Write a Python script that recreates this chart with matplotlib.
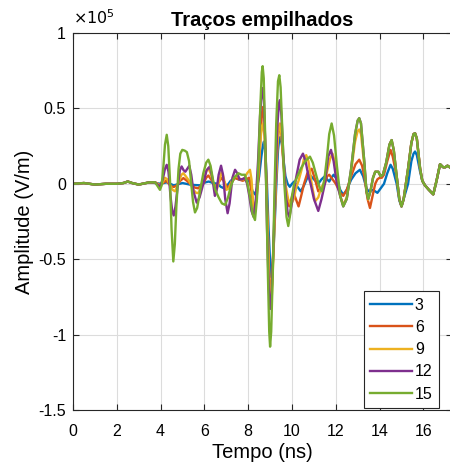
import numpy as np
import matplotlib
matplotlib.use("Agg")
import matplotlib.pyplot as plt

plt.rcParams['font.family'] = ['Liberation Sans', 'DejaVu Sans']
plt.rcParams['axes.unicode_minus'] = False

# (time in ns, amplitude in 1e5 V/m)
early = [[0, 0], [0.5, 0.005], [1.0, -0.005], [1.5, 0.0], [2.0, 0.0], [2.3, 0.005], [2.5, 0.015],
         [2.7, 0.005], [3.0, -0.005], [3.5, 0.01], [3.75, 0.01]]

trace_15 = np.array(early + [
    [3.88, -0.02], [3.97, -0.04], [4.05, -0.01], [4.13, 0.12], [4.2, 0.26], [4.28, 0.325],
    [4.35, 0.25], [4.43, 0.02], [4.5, -0.3], [4.58, -0.515], [4.65, -0.4], [4.72, -0.15],
    [4.82, 0.1], [4.9, 0.2], [4.99, 0.225], [5.1, 0.22], [5.2, 0.21], [5.3, 0.15], [5.4, 0.0],
    [5.48, -0.12], [5.57, -0.19], [5.67, -0.16], [5.8, -0.05], [5.95, 0.07], [6.08, 0.14],
    [6.18, 0.16], [6.28, 0.12], [6.4, 0.02], [6.5, -0.04], [6.65, -0.09], [6.8, -0.13],
    [6.95, -0.14], [7.08, -0.09], [7.2, -0.02], [7.35, 0.04], [7.55, 0.07], [7.7, 0.06],
    [7.85, 0.06], [7.97, 0.0], [8.1, -0.1], [8.2, -0.2], [8.31, -0.24], [8.4, -0.1],
    [8.47, 0.15], [8.55, 0.5], [8.62, 0.74], [8.66, 0.78], [8.71, 0.7], [8.77, 0.35],
    [8.83, -0.1], [8.9, -0.6], [8.96, -0.98], [9.0, -1.08], [9.05, -0.98], [9.12, -0.6],
    [9.2, -0.05], [9.28, 0.4], [9.36, 0.68], [9.42, 0.72], [9.48, 0.64], [9.56, 0.35],
    [9.65, 0.0], [9.75, -0.22], [9.83, -0.28], [9.92, -0.2], [10.0, -0.08], [10.1, 0.0],
    [10.25, 0.05], [10.4, 0.1], [10.6, 0.15], [10.82, 0.18], [10.95, 0.14], [11.1, 0.06],
    [11.25, -0.02], [11.36, -0.05], [11.48, 0.03], [11.6, 0.18], [11.7, 0.33], [11.81, 0.40],
    [11.92, 0.32], [12.05, 0.12], [12.2, -0.08], [12.34, -0.15], [12.5, -0.1], [12.7, 0.1],
    [12.88, 0.33], [13.0, 0.42], [13.07, 0.435], [13.15, 0.4], [13.3, 0.15], [13.4, -0.05],
    [13.48, -0.1], [13.58, -0.05], [13.7, 0.04], [13.8, 0.08], [13.94, 0.08], [14.05, 0.05],
    [14.15, 0.06], [14.3, 0.14], [14.45, 0.26], [14.55, 0.29], [14.65, 0.22], [14.78, 0.05],
    [14.9, -0.1], [15.0, -0.15], [15.1, -0.1], [15.3, 0.1], [15.45, 0.27], [15.55, 0.33],
    [15.62, 0.335], [15.7, 0.3], [15.85, 0.1], [15.95, 0.02], [16.07, -0.01], [16.25, -0.04],
    [16.45, -0.07], [16.6, 0.02], [16.76, 0.13], [16.9, 0.11], [17.0, 0.11], [17.1, 0.12],
    [17.3, 0.1]])

trace_12 = np.array(early + [
    [3.97, -0.02], [4.1, 0.03], [4.2, 0.1], [4.28, 0.126], [4.36, 0.08], [4.45, -0.08],
    [4.53, -0.18], [4.6, -0.21], [4.68, -0.15], [4.78, -0.02], [4.88, 0.09], [4.96, 0.115],
    [5.05, 0.09], [5.13, 0.08], [5.22, 0.1], [5.31, 0.12], [5.4, 0.06], [5.5, -0.05],
    [5.65, -0.125], [5.78, -0.09], [5.95, 0.0], [6.1, 0.09], [6.25, 0.115], [6.35, 0.05],
    [6.48, -0.08], [6.55, -0.05], [6.65, 0.06], [6.76, 0.12], [6.85, 0.06], [6.95, -0.1],
    [7.06, -0.195], [7.15, -0.13], [7.28, 0.04], [7.4, 0.093], [7.5, 0.07], [7.6, 0.03],
    [7.72, 0.03], [7.85, 0.04], [7.95, 0.0], [8.05, -0.08], [8.15, -0.18], [8.25, -0.22],
    [8.35, -0.1], [8.45, 0.15], [8.54, 0.45], [8.62, 0.61], [8.66, 0.635], [8.72, 0.55],
    [8.79, 0.2], [8.86, -0.3], [8.94, -0.7], [9.0, -0.83], [9.05, -0.8], [9.14, -0.45],
    [9.25, 0.05], [9.33, 0.38], [9.4, 0.53], [9.45, 0.555], [9.52, 0.45], [9.6, 0.2],
    [9.7, -0.05], [9.8, -0.19], [9.88, -0.22], [9.97, -0.15], [10.1, -0.03], [10.2, 0.05],
    [10.35, 0.16], [10.5, 0.2], [10.62, 0.15], [10.75, 0.05], [10.85, 0.0], [11.0, -0.1],
    [11.2, -0.18], [11.35, -0.1], [11.5, 0.0], [11.65, 0.18], [11.78, 0.225], [11.9, 0.15],
    [12.05, 0.0]])

trace_9 = np.array(early + [
    [3.97, -0.01], [4.1, 0.01], [4.2, 0.04], [4.3, 0.03], [4.4, 0.0], [4.55, -0.04],
    [4.66, -0.05], [4.75, -0.02], [4.85, 0.02], [4.95, 0.06], [5.04, 0.07], [5.15, 0.05],
    [5.3, 0.02], [5.5, -0.04], [5.62, -0.06], [5.72, -0.062], [5.82, -0.03], [5.95, 0.02],
    [6.07, 0.08], [6.18, 0.104], [6.28, 0.07], [6.42, 0.0], [6.56, -0.04], [6.68, 0.02],
    [6.79, 0.08], [6.88, 0.04], [7.0, -0.04], [7.12, -0.03], [7.25, 0.02], [7.38, 0.045],
    [7.5, 0.05], [7.65, 0.03], [7.8, 0.03], [7.95, 0.07], [8.08, 0.093], [8.15, 0.03],
    [8.22, -0.12], [8.28, -0.2], [8.36, -0.12], [8.45, 0.05], [8.54, 0.26], [8.62, 0.38],
    [8.68, 0.40], [8.74, 0.32], [8.8, 0.12], [8.88, -0.25], [8.96, -0.62], [9.03, -0.78],
    [9.08, -0.74], [9.16, -0.45], [9.25, -0.05], [9.33, 0.25], [9.4, 0.38], [9.45, 0.40],
    [9.52, 0.33], [9.6, 0.17], [9.7, 0.0], [9.82, -0.1], [9.95, -0.14], [10.08, -0.1],
    [10.2, -0.02], [10.3, 0.02], [10.45, 0.1], [10.55, 0.17], [10.65, 0.19], [10.75, 0.15],
    [10.9, 0.0], [11.05, -0.117], [11.2, -0.09], [11.35, -0.02], [11.45, 0.0], [11.6, 0.08],
    [11.75, 0.17], [11.85, 0.2], [11.95, 0.15], [12.05, 0.06], [12.2, -0.08], [12.34, -0.14],
    [12.5, -0.09], [12.7, 0.08], [12.88, 0.28], [13.0, 0.35], [13.07, 0.36], [13.15, 0.33],
    [13.3, 0.12], [13.4, -0.05], [13.48, -0.105], [13.58, -0.05], [13.7, 0.04]])

trace_6 = np.array(early + [
    [3.97, -0.01], [4.1, 0.005], [4.25, 0.02], [4.38, 0.0], [4.5, -0.02], [4.62, -0.02],
    [4.75, -0.01], [4.9, 0.02], [5.04, 0.038], [5.2, 0.02], [5.35, 0.0], [5.55, -0.025],
    [5.72, -0.03], [5.85, -0.01], [5.95, 0.0], [6.08, 0.04], [6.18, 0.055], [6.3, 0.03],
    [6.5, -0.02], [6.65, 0.01], [6.79, 0.04], [6.92, 0.01], [7.05, -0.03], [7.2, 0.0],
    [7.4, 0.04], [7.55, 0.03], [7.75, 0.02], [7.9, 0.03], [8.05, 0.04], [8.15, -0.05],
    [8.23, -0.14], [8.3, -0.17], [8.38, -0.1], [8.48, 0.05], [8.56, 0.3], [8.63, 0.47],
    [8.68, 0.51], [8.74, 0.42], [8.8, 0.18], [8.87, -0.2], [8.95, -0.58], [9.02, -0.72],
    [9.08, -0.68], [9.16, -0.4], [9.25, -0.05], [9.33, 0.25], [9.4, 0.37], [9.45, 0.39],
    [9.52, 0.32], [9.6, 0.15], [9.7, -0.03], [9.8, -0.12], [9.88, -0.15], [9.97, -0.1],
    [10.05, -0.06], [10.15, -0.09], [10.3, -0.15], [10.42, -0.08], [10.55, 0.0], [10.7, 0.07],
    [10.9, 0.1], [11.05, 0.03], [11.2, -0.05], [11.35, -0.03], [11.5, 0.0], [11.6, 0.05],
    [11.7, 0.06], [11.85, 0.03], [12.0, 0.0], [12.2, -0.06], [12.34, -0.08], [12.5, -0.04],
    [12.7, 0.05], [12.9, 0.13], [13.07, 0.16], [13.2, 0.12], [13.3, 0.05], [13.45, -0.1],
    [13.56, -0.16], [13.68, -0.08], [13.8, 0.0], [13.9, 0.03], [14.0, 0.04], [14.1, 0.04],
    [14.2, 0.06], [14.35, 0.15], [14.5, 0.225], [14.6, 0.18], [14.78, 0.05]])

trace_3 = np.array(early[:-1] + [
    [4.0, 0.0], [4.28, 0.01], [4.6, -0.01], [5.0, 0.005], [5.4, -0.007], [5.8, -0.01],
    [6.05, 0.01], [6.2, 0.015], [6.4, 0.005], [6.6, 0.0], [6.75, -0.02], [6.9, -0.03],
    [7.05, -0.01], [7.2, 0.02], [7.4, 0.04], [7.55, 0.03], [7.7, 0.027], [7.85, 0.03],
    [8.0, 0.03], [8.1, 0.0], [8.2, -0.05], [8.31, -0.07], [8.4, -0.03], [8.5, 0.05],
    [8.6, 0.18], [8.68, 0.26], [8.72, 0.28], [8.78, 0.22], [8.85, 0.02], [8.93, -0.3],
    [9.0, -0.52], [9.06, -0.62], [9.12, -0.55], [9.2, -0.3], [9.28, -0.02], [9.36, 0.22],
    [9.42, 0.3], [9.47, 0.31], [9.54, 0.26], [9.62, 0.15], [9.7, 0.05], [9.8, 0.0],
    [9.9, -0.02], [10.0, 0.0], [10.1, 0.015], [10.25, -0.02], [10.4, -0.05], [10.55, -0.01],
    [10.7, 0.04], [10.8, 0.06], [11.0, 0.03], [11.2, 0.0], [11.35, 0.03], [11.5, 0.05],
    [11.6, 0.03], [11.7, 0.015], [11.8, 0.04], [11.9, 0.06], [12.05, 0.03], [12.2, -0.04],
    [12.34, -0.073], [12.5, -0.04], [12.7, 0.027], [12.9, 0.07], [13.1, 0.093], [13.25, 0.05],
    [13.4, -0.03], [13.5, -0.05], [13.65, -0.04], [13.8, -0.05], [13.9, -0.06], [14.05, -0.03],
    [14.2, 0.0], [14.35, 0.07], [14.5, 0.126], [14.6, 0.1], [14.78, 0.0], [14.9, -0.11],
    [15.0, -0.15], [15.1, -0.1], [15.3, 0.0], [15.45, 0.15], [15.55, 0.2], [15.62, 0.214],
    [15.7, 0.19], [15.85, 0.08], [15.95, 0.02]])

labels = ['3', '6', '9', '12', '15']
colors = ['#0072BD', '#D95319', '#EDB120', '#7E2F8E', '#77AC30']


# the later part of each smaller trace runs on top of the green one
def with_tail(tr):
    rest = trace_15[trace_15[:, 0] > tr[-1, 0]]
    return np.vstack([tr, rest])


traces = [with_tail(trace_3), with_tail(trace_6), with_tail(trace_9),
          with_tail(trace_12), trace_15]

fig = plt.figure(figsize=(4.5, 4.69), dpi=100)
ax = fig.add_axes([73 / 450, 59 / 469, 379 / 450, 377 / 469])

for tr, lab, c in zip(traces, labels, colors):
    ax.plot(tr[:, 0], tr[:, 1], color=c, lw=1.7, label=lab, solid_joinstyle='round')

ax.set_xlim(0, 379 / 21.9)
ax.set_ylim(-1.5, 1.0)
ax.set_xticks(np.arange(0, 17, 2))
ax.set_yticks([-1.5, -1, -0.5, 0, 0.5, 1])
ax.set_yticklabels(['-1.5', '-1', '-0.5', '0', '0.5', '1'])
ax.tick_params(direction='in', top=True, right=True, labelsize=11.5, length=4,
               color='#262626')
ax.tick_params(axis='x', pad=10)
ax.tick_params(axis='y', pad=5)
ax.grid(True, color='#dcdcdc', lw=0.8)
ax.set_axisbelow(True)
for s in ax.spines.values():
    s.set_color('#262626')
    s.set_linewidth(0.8)

ax.set_xlabel('Tempo (ns)', fontsize=14.5, labelpad=3)
ax.set_ylabel('Amplitude (V/m)', fontsize=14.5, labelpad=3)
ax.set_title('Traços empilhados', fontsize=14.5, fontweight='bold', pad=5)
fig.text(73 / 450, 1 - 24 / 469, r'$\times10^5$', fontsize=11.5)

leg = ax.legend(loc='lower right', bbox_to_anchor=(439 / 450, 61 / 469),
                bbox_transform=fig.transFigure, borderaxespad=0, fontsize=11.5,
                handlelength=2.6, handletextpad=0.2, borderpad=0.4,
                fancybox=False, framealpha=1, edgecolor='#262626', labelspacing=0.45)
leg.get_frame().set_linewidth(0.8)

fig.savefig('out.png', dpi=100)
